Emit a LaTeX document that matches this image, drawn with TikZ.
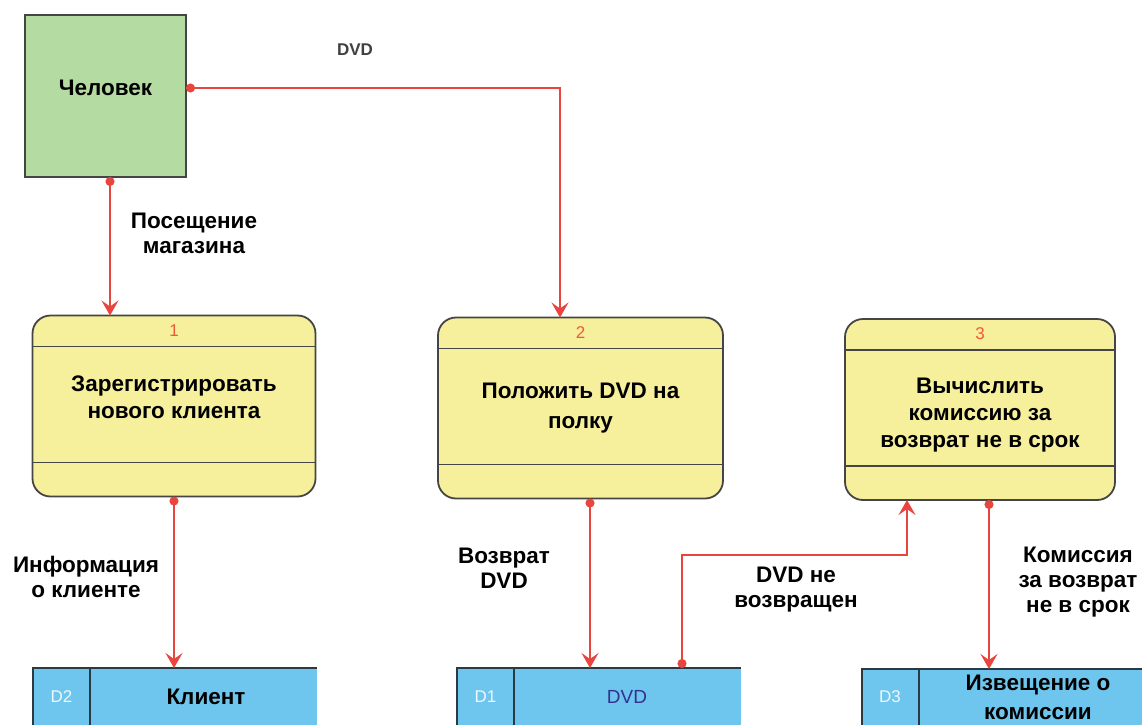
\documentclass[tikz,border=0pt]{standalone}
\usepackage{fontspec}
\setmainfont{Liberation Sans}
\usetikzlibrary{arrows.meta}
\definecolor{actorfill}{HTML}{B4DBA2}
\definecolor{procfill}{HTML}{F6EF9C}
\definecolor{storefill}{HTML}{6EC6EE}
\definecolor{flowred}{HTML}{E8453E}
\definecolor{numred}{HTML}{F05A32}
\definecolor{boxedge}{HTML}{454545}
\definecolor{storeedge}{HTML}{2B3A42}
\tikzset{
  actor/.style={draw=boxedge,line width=1.8pt,fill=actorfill,minimum width=161pt,minimum height=162pt,outer sep=0pt},
  proc/.style={draw=boxedge,line width=1.8pt,fill=procfill,rounded corners=18pt,minimum height=181pt,outer sep=0pt},
  procline/.style={draw=boxedge,line width=1.8pt},
  procnum/.style={text=numred,font=\fontsize{17}{20}\selectfont},
  proctext/.style={align=center,font=\fontsize{22.5}{27}\selectfont\bfseries},
  store/.style={fill=storefill,minimum width=284pt,minimum height=72pt,outer sep=0pt},
  storeline/.style={draw=storeedge,line width=2pt},
  storeid/.style={text=white!88!storefill,font=\fontsize{17}{20}\selectfont},
  lbl/.style={align=center,font=\fontsize{22.5}{25}\selectfont\bfseries},
  flow/.style={draw=flowred,line width=1.7pt,{Circle[length=9pt]}->}
}
\begin{document}
\begin{tikzpicture}[x=1pt,y=-1pt,>={Stealth[length=15pt,width=17pt,inset=6pt]}]
	\useasboundingbox (0,0) rectangle (1142,724);
	\fill[white] (0,0) rectangle (1142,724);
	% внешняя сущность и процессы
	\node[actor] (person) at (105.5,96) {};
	\node[lbl] (pname) at ([yshift=8pt]person.center) {Человек};
	\node[proc,minimum width=283pt] (p1) at (174,406) {};
	\node[proc,minimum width=285pt] (p2) at (580.5,408) {};
	\node[proc,minimum width=270pt] (p3) at (980,409.5) {};
	\foreach \p/\n in {p1/1,p2/2,p3/3}{\draw[procline] ([yshift=-31pt]\p.north west)--([yshift=-31pt]\p.north east);\draw[procline] ([yshift=34pt]\p.south west)--([yshift=34pt]\p.south east);\node[procnum] (n\p) at ([yshift=-15pt]\p.north) {\n};}
	\node[proctext] (t1) at ([yshift=9pt]p1.center) {Зарегистрировать\\нового клиента};
	\node[proctext,font=\fontsize{22.5}{30}\selectfont\bfseries] (t2) at (p2.center) {Положить DVD на\\полку};
	\node[proctext] (t3) at ([yshift=-5.5pt]p3.center) {Вычислить\\комиссию за\\возврат не в срок};
	% хранилища данных
	\node[store] (d2) at (175,704) {};
	\node[store] (d1) at (598.5,704) {};
	\node[store] (d3) at (1004,705) {};
	\foreach \d in {d1,d2,d3}{\draw[storeline] (\d.south west)--(\d.north west)--(\d.north east);\draw[storeline] ([xshift=57pt]\d.south west)--([xshift=57pt]\d.north west);}
	\node[storeid] (id2) at (61.5,697) {D2};\node[lbl] (nm2) at (206,697) {Клиент};
	\node[storeid] (id1) at (485.5,697) {D1};\node[text=blue!45!black!80,font=\fontsize{19}{22}\selectfont] (nm1) at (627,697) {DVD};
	\node[storeid] (id3) at (890,697) {D3};\node[lbl,font=\fontsize{22.5}{29}\selectfont\bfseries] (nm3) at (1038,697) {Извещение о\\комиссии};
	% потоки
	\coordinate (s1) at ([xshift=4.5pt]person.south);
	\coordinate (s4) at ([xshift=9.5pt]p2.south);
	\coordinate (s5) at ([xshift=83.5pt]d1.north);\coordinate (bend) at (800,555);\coordinate (e5) at ([xshift=-73pt]p3.south);
	\coordinate (s6) at ([xshift=9pt]p3.south);
	\draw[flow] (s1)--(s1 |- p1.north);
	\draw[flow] ([yshift=8pt]person.east) -| ([xshift=-20.5pt]p2.north);
	\draw[flow] (p1.south)--(p1.south |- d2.north);
	\draw[flow] (s4)--(s4 |- d1.north);
	\draw[flow] (s5) |- (bend) -| (e5);
	\draw[flow] (s6)--(s6 |- d3.north);
	% подписи потоков
	\node[text=black!75,font=\fontsize{17}{20}\selectfont\bfseries] (l0) at (355,50) {DVD};
	\node[lbl] (l1) at (194,233) {Посещение\\магазина};
	\node[lbl] (l2) at (86,577) {Информация\\о клиенте};
	\node[lbl] (l3) at (504,568) {Возврат\\DVD};
	\node[lbl] (l4) at (796,590) {DVD не\\возвращен};
	\node[lbl] (l5) at (1078,582) {Комиссия\\за возврат\\не в срок};
\end{tikzpicture}
\end{document}
